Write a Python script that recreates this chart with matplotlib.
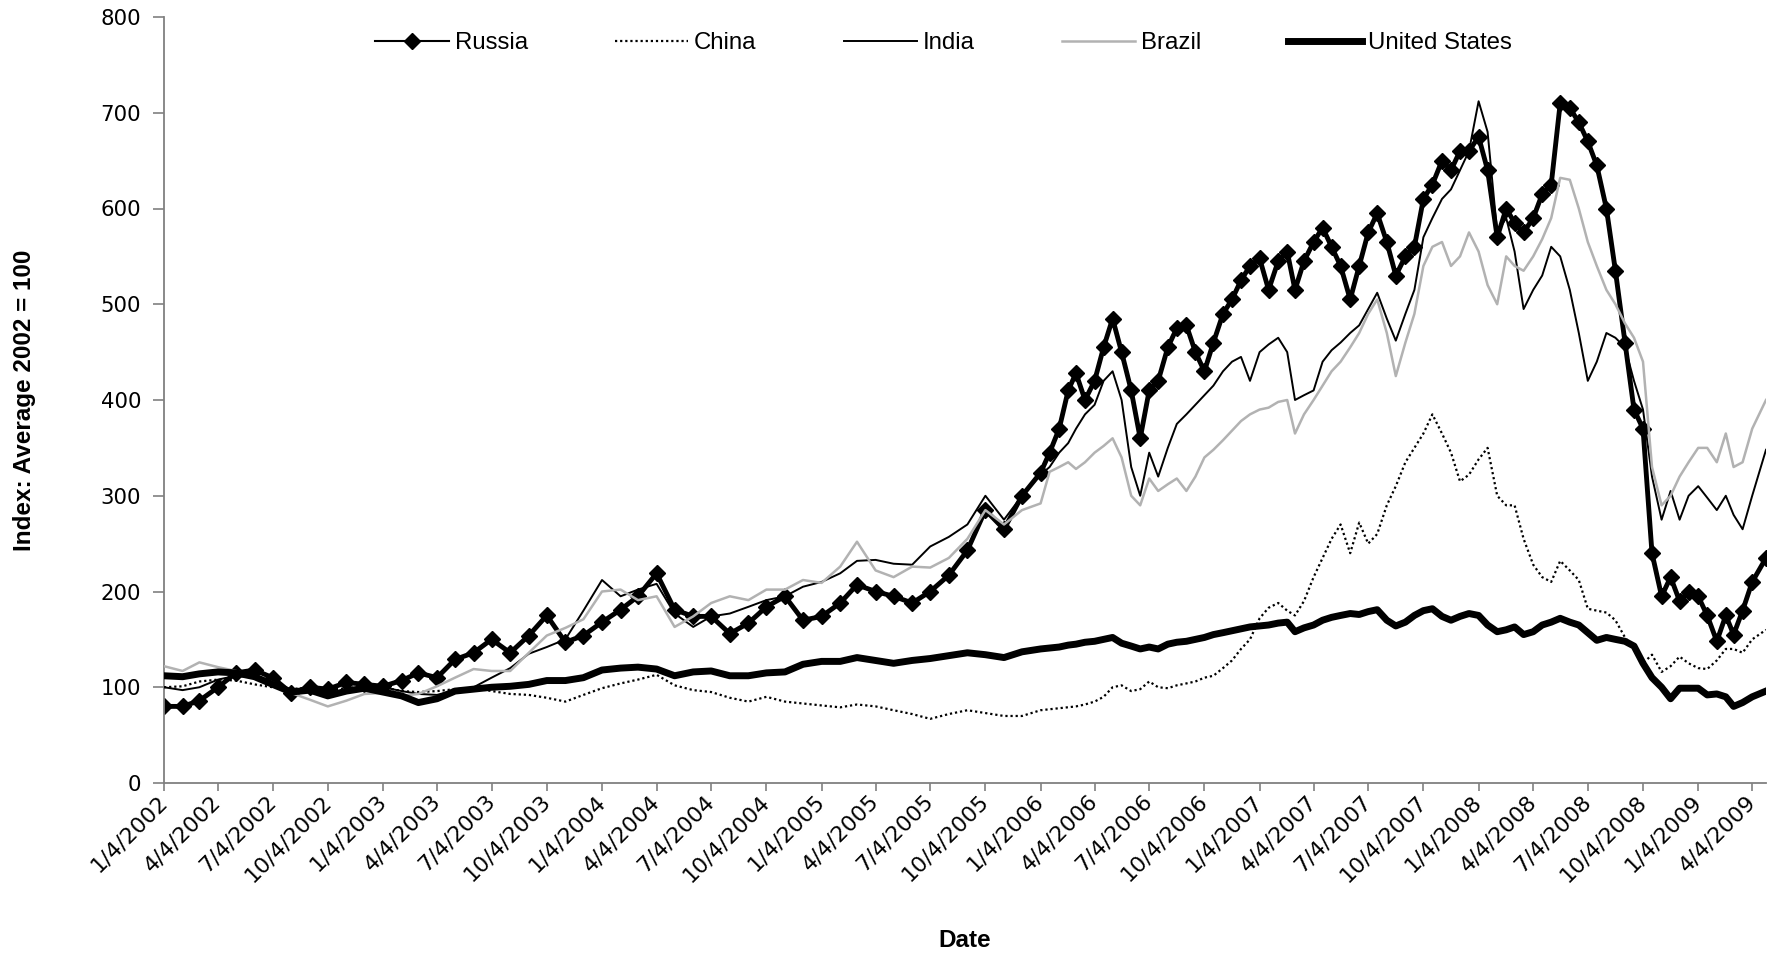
import pandas as pd
import matplotlib
matplotlib.use('Agg')
import matplotlib.pyplot as plt

plt.rcParams['font.family'] = ['Liberation Sans', 'DejaVu Sans']

# sample dates: monthly up to 2005, twice a month from 2006 on
monthly = pd.date_range('2002-01-01', '2005-12-01', freq='MS') + pd.Timedelta(days=3)
semi = []
for d in pd.date_range('2006-01-01', '2009-03-01', freq='MS'):
    semi += [d + pd.Timedelta(days=3), d + pd.Timedelta(days=18)]
semi += [pd.Timestamp('2009-04-04'), pd.Timestamp('2009-04-27')]
dates = list(monthly) + semi

# index values, average 2002 = 100
russia_0205 = [80, 80, 86, 100, 115, 118, 110, 94, 100, 98, 105, 103,
               101, 107, 115, 110, 129, 136, 150, 136, 154, 175, 147, 154,
               168, 181, 195, 219, 181, 174, 174, 156, 167, 184, 195, 170,
               174, 188, 207, 200, 195, 188, 200, 217, 243, 285, 265, 300]
russia_0609 = [324, 345, 370, 410, 428, 400, 420, 455, 485, 450, 410, 360,
               410, 420, 455, 475, 478, 450, 430, 460, 490, 505, 525, 540,
               548, 515, 545, 555, 515, 545, 565, 580, 560, 540, 505, 540,
               575, 595, 565, 530, 550, 560, 610, 625, 650, 640, 660, 660,
               675, 640, 570, 600, 585, 575, 590, 615, 625, 710, 705, 690,
               670, 645, 600, 535, 460, 390, 370, 240, 195, 215, 190, 200,
               195, 175, 148, 175, 155, 180, 210, 235]

china_0205 = [100, 101, 106, 108, 107, 103, 100, 98, 100, 97, 99, 101,
              100, 96, 95, 96, 98, 99, 96, 93, 92, 89, 85, 92,
              99, 104, 108, 113, 102, 97, 95, 89, 85, 90, 85, 83,
              81, 79, 82, 80, 76, 72, 67, 72, 76, 73, 70, 70]
china_0609 = [76, 77, 78, 79, 80, 82, 85, 90, 100, 102, 96, 98,
              106, 100, 99, 102, 104, 106, 110, 112, 120, 128, 140, 150,
              172, 183, 188, 180, 175, 190, 215, 235, 255, 270, 240, 272,
              250, 260, 290, 310, 335, 350, 365, 385, 365, 345, 315, 322,
              338, 350, 300, 290, 290, 255, 228, 215, 210, 232, 222, 212,
              182, 180, 178, 170, 152, 140, 125, 134, 116, 122, 132, 125,
              120, 119, 128, 140, 140, 136, 150, 160]

india_0205 = [100, 97, 100, 108, 112, 110, 102, 96, 97, 92, 95, 97,
              100, 96, 93, 92, 97, 100, 110, 120, 135, 142, 150, 180,
              212, 195, 202, 208, 177, 163, 174, 177, 184, 191, 195, 205,
              210, 219, 232, 233, 229, 228, 247, 257, 270, 300, 275, 300]
india_0609 = [322, 330, 345, 355, 370, 385, 395, 420, 430, 400, 330, 300,
              345, 320, 350, 375, 385, 395, 405, 415, 430, 440, 445, 420,
              450, 458, 465, 450, 400, 405, 410, 440, 452, 460, 470, 478,
              495, 512, 485, 462, 490, 515, 570, 590, 610, 620, 640, 660,
              712, 680, 575, 590, 555, 495, 515, 530, 560, 550, 515, 470,
              420, 440, 470, 465, 455, 420, 390, 320, 275, 305, 275, 300,
              310, 298, 285, 300, 280, 265, 300, 348]

brazil_0205 = [122, 117, 126, 121, 117, 112, 105, 94, 87, 80, 86, 93,
               94, 91, 93, 101, 110, 119, 117, 117, 136, 154, 162, 171,
               200, 202, 191, 195, 163, 174, 188, 195, 191, 202, 202, 212,
               209, 226, 252, 222, 215, 226, 225, 235, 255, 285, 270, 285]
brazil_0609 = [292, 325, 330, 335, 328, 335, 345, 352, 360, 340, 300, 290,
               318, 305, 312, 318, 305, 320, 340, 348, 358, 368, 378, 385,
               390, 392, 398, 400, 365, 385, 400, 415, 430, 440, 455, 470,
               490, 505, 470, 425, 460, 490, 540, 560, 565, 540, 550, 575,
               555, 520, 500, 550, 540, 535, 550, 568, 590, 632, 630, 600,
               565, 540, 515, 500, 480, 465, 440, 330, 290, 300, 320, 335,
               350, 350, 335, 365, 330, 335, 370, 400]

us_0205 = [112, 111, 114, 116, 115, 111, 103, 95, 97, 91, 96, 99,
           95, 91, 84, 88, 96, 98, 100, 101, 103, 107, 107, 110,
           118, 120, 121, 119, 112, 116, 117, 112, 112, 115, 116, 124,
           127, 127, 131, 128, 125, 128, 130, 133, 136, 134, 131, 137]
us_0609 = [140, 141, 142, 144, 145, 147, 148, 150, 152, 146, 143, 140,
           142, 140, 145, 147, 148, 150, 152, 155, 157, 159, 161, 163,
           164, 165, 167, 168, 158, 162, 165, 170, 173, 175, 177, 176,
           179, 181, 170, 164, 168, 175, 180, 182, 174, 170, 174, 177,
           175, 165, 158, 160, 163, 155, 158, 165, 168, 172, 168, 165,
           157, 149, 152, 150, 148, 143, 125, 110, 100, 88, 99, 99,
           99, 92, 93, 90, 80, 84, 90, 96]

russia = russia_0205 + russia_0609
china = china_0205 + china_0609
india = india_0205 + india_0609
brazil = brazil_0205 + brazil_0609
us = us_0205 + us_0609

tick_dates = pd.date_range('2002-01-01', '2009-04-01', freq='QS') + pd.Timedelta(days=3)
tick_labels = [f'{d.month}/{d.day}/{d.year}' for d in tick_dates]

fig = plt.figure(figsize=(17.72, 9.6), dpi=100)
ax = fig.add_axes([164/1772, 1 - 783/960, (1766 - 164)/1772, 766/960])

# Russia: thick band under the diamond markers
ax.plot(dates, russia, color='black', lw=3.5, zorder=2)
ax.plot(dates, russia, color='black', lw=1.5, marker='D', ms=8, label='Russia', zorder=2)
ax.plot(dates, china, color='black', lw=1.6, ls=(0, (1, 1.3)), label='China', zorder=3)
ax.plot(dates, india, color='black', lw=1.4, label='India', zorder=3)
ax.plot(dates, brazil, color='#b2b2b2', lw=1.8, label='Brazil', zorder=3)
ax.plot(dates, us, color='black', lw=5, label='United States', zorder=4)

ax.set_xlim(dates[0], dates[-1])
ax.set_ylim(0, 800)
ax.set_yticks(range(0, 801, 100))
ax.set_xticks(tick_dates)
ax.set_xticklabels(tick_labels, rotation=45, ha='right', va='center', rotation_mode='anchor')

for s in ['top', 'right']:
    ax.spines[s].set_visible(False)
for s in ['left', 'bottom']:
    ax.spines[s].set_color('#808080')
    ax.spines[s].set_linewidth(1.3)

ax.tick_params(axis='x', direction='out', length=6, width=1.2, color='#808080', pad=5)
ax.tick_params(axis='y', direction='out', length=8, width=1.2, color='#808080', pad=8.5)
for lab in ax.get_xticklabels():
    lab.set_fontfamily('DejaVu Sans')
    lab.set_fontsize(15.8)
for lab in ax.get_yticklabels():
    lab.set_fontfamily('DejaVu Sans')
    lab.set_fontsize(15.3)

ax.set_xlabel('Date', fontsize=17.5, fontweight='bold', va='center')
ax.xaxis.set_label_coords(0.5, -0.205)
ax.set_ylabel('Index: Average 2002 = 100', fontsize=17.5, fontweight='bold', va='center')
ax.yaxis.set_label_coords(-0.0868, 0.5)

ax.legend(loc='center', bbox_to_anchor=(0.4866, 0.966), ncol=5, frameon=False,
          fontsize=17.3, handlelength=3.05, handletextpad=0.25, columnspacing=3.62)

fig.savefig('out.png', dpi=100)
